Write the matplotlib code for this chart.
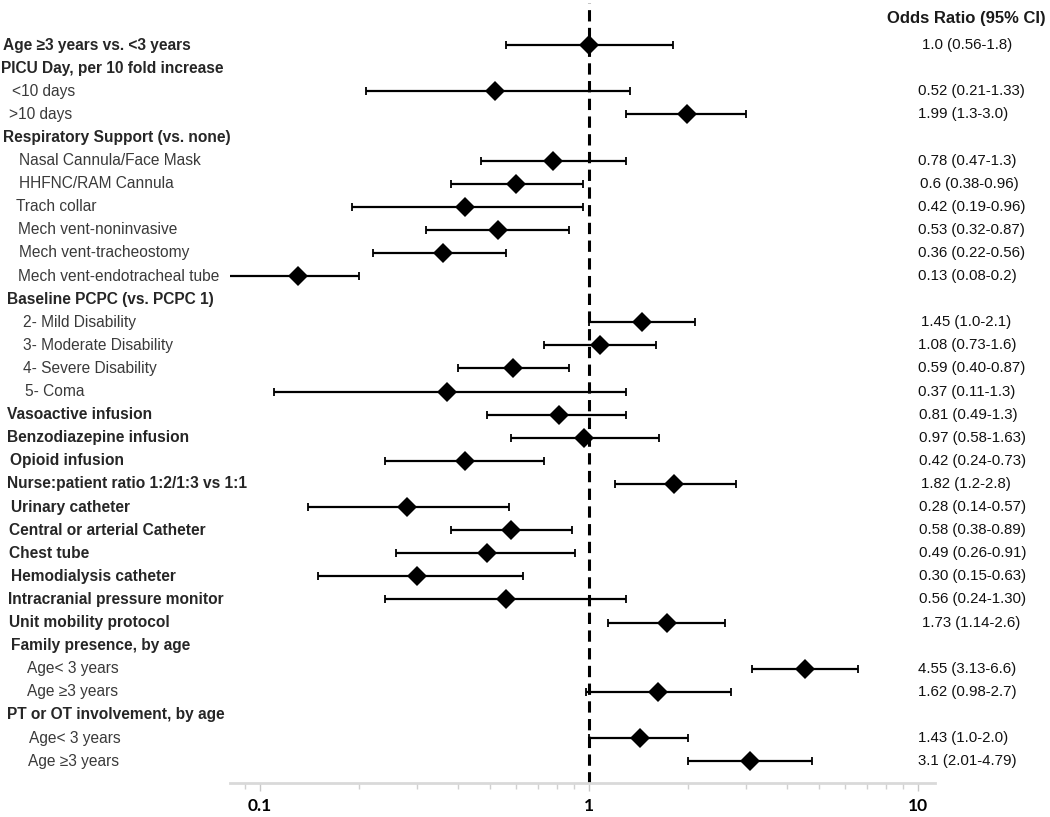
import matplotlib
matplotlib.use("Agg")
import matplotlib.pyplot as plt
import numpy as np
from matplotlib.transforms import blended_transform_factory
from matplotlib.ticker import LogLocator, NullFormatter, FixedLocator, FixedFormatter

# ---------------- data ----------------
labels = [
    "Age \u22653 years vs. <3 years",
    "PICU Day, per 10 fold increase",
    "<10 days",
    ">10 days",
    "Respiratory Support (vs. none)",
    "Nasal Cannula/Face Mask",
    "HHFNC/RAM Cannula",
    "Trach collar",
    "Mech vent-noninvasive",
    "Mech vent-tracheostomy",
    "Mech vent-endotracheal tube",
    "Baseline PCPC (vs. PCPC 1)",
    "2- Mild Disability",
    "3- Moderate Disability",
    "4- Severe Disability",
    "5- Coma",
    "Vasoactive infusion",
    "Benzodiazepine infusion",
    "Opioid infusion",
    "Nurse:patient ratio 1:2/1:3 vs 1:1",
    "Urinary catheter",
    "Central or arterial Catheter",
    "Chest tube",
    "Hemodialysis catheter",
    "Intracranial pressure monitor",
    "Unit mobility protocol",
    "Family presence, by age",
    "Age< 3 years",
    "Age \u22653 years",
    "PT or OT involvement, by age",
    "Age< 3 years",
    "Age \u22653 years",
]
is_sub = [0, 0, 1, 1, 0, 1, 1, 1, 1, 1, 1, 0, 1, 1, 1, 1,
          0, 0, 0, 0, 0, 0, 0, 0, 0, 0, 0, 1, 1, 0, 1, 1]
odds = [1.0, None, 0.52, 1.99, None, 0.78, 0.6, 0.42, 0.53, 0.36, 0.13, None,
        1.45, 1.08, 0.59, 0.37, 0.81, 0.97, 0.42, 1.82, 0.28, 0.58, 0.49, 0.30,
        0.56, 1.73, None, 4.55, 1.62, None, 1.43, 3.1]
ci_lo = [0.56, None, 0.21, 1.3, None, 0.47, 0.38, 0.19, 0.32, 0.22, 0.08, None,
         1.0, 0.73, 0.40, 0.11, 0.49, 0.58, 0.24, 1.2, 0.14, 0.38, 0.26, 0.15,
         0.24, 1.14, None, 3.13, 0.98, None, 1.0, 2.01]
ci_hi = [1.8, None, 1.33, 3.0, None, 1.3, 0.96, 0.96, 0.87, 0.56, 0.2, None,
         2.1, 1.6, 0.87, 1.3, 1.3, 1.63, 0.73, 2.8, 0.57, 0.89, 0.91, 0.63,
         1.30, 2.6, None, 6.6, 2.7, None, 2.0, 4.79]
or_text = ["1.0 (0.56-1.8)", "", "0.52 (0.21-1.33)", "1.99 (1.3-3.0)", "",
           "0.78 (0.47-1.3)", "0.6 (0.38-0.96)", "0.42 (0.19-0.96)",
           "0.53 (0.32-0.87)", "0.36 (0.22-0.56)", "0.13 (0.08-0.2)", "",
           "1.45 (1.0-2.1)", "1.08 (0.73-1.6)", "0.59 (0.40-0.87)",
           "0.37 (0.11-1.3)", "0.81 (0.49-1.3)", "0.97 (0.58-1.63)",
           "0.42 (0.24-0.73)", "1.82 (1.2-2.8)", "0.28 (0.14-0.57)",
           "0.58 (0.38-0.89)", "0.49 (0.26-0.91)", "0.30 (0.15-0.63)",
           "0.56 (0.24-1.30)", "1.73 (1.14-2.6)", "", "4.55 (3.13-6.6)",
           "1.62 (0.98-2.7)", "", "1.43 (1.0-2.0)", "3.1 (2.01-4.79)"]
x_ticks = [0.1, 1, 10]
x_tick_labels = ["0.1", "1", "10"]
header_text = "Odds Ratio (95% CI)"

# ---------------- layout / style ----------------
# left edge (pixels) of each row label
label_x_px = [3, 1, 12, 9, 3, 19, 19, 16, 18, 19, 18, 7, 23, 23, 23, 25,
              7, 7, 10, 7, 11, 9, 9, 11, 8, 9, 11, 27, 27, 7, 29, 28]
value_x_px = [922, 0, 918, 918, 0, 918, 920, 918, 918, 918, 918, 0,
              921, 918, 918, 918, 919, 919, 919, 921, 919, 919, 919, 919,
              919, 922, 0, 918, 918, 0, 918, 918]

W, H = 1050, 817
fig = plt.figure(figsize=(W / 100, H / 100), dpi=100)
plt.rcParams['font.family'] = ['Liberation Sans', 'DejaVu Sans']

ax_left, ax_right = 230, 935
ax_top, ax_bot = 3, 783
ax = fig.add_axes([ax_left / W, 1 - ax_bot / H, (ax_right - ax_left) / W, (ax_bot - ax_top) / H])

row0_px, row_step = 45, 23.1
y_top = (ax_top - row0_px) / row_step
y_bot = (ax_bot - row0_px) / row_step
ax.set_xscale('log')
ax.set_xlim(0.081, 11.3)
ax.set_ylim(y_bot, y_top)

n = len(labels)
ys = np.arange(n)
idx = [i for i in range(n) if odds[i] is not None]
o = np.array([odds[i] for i in idx])
lo = np.array([ci_lo[i] for i in idx])
hi = np.array([ci_hi[i] for i in idx])
yy = ys[idx]

ax.axvline(1, color='black', lw=2.2, ls=(0, (3.7, 2.1)), zorder=1)
ax.errorbar(o, yy, xerr=[o - lo, hi - o], fmt='none', ecolor='black',
            elinewidth=1.6, capsize=3.2, capthick=1.3, zorder=2)
ax.plot(o, yy, 'D', color='black', ms=10.2, zorder=3, mew=0)

for s in ['top', 'right', 'left']:
    ax.spines[s].set_visible(False)
ax.spines['bottom'].set_color('#d9d9d9')
ax.spines['bottom'].set_linewidth(2)
ax.set_yticks([])
ax.xaxis.set_major_locator(FixedLocator(x_ticks))
ax.xaxis.set_major_formatter(FixedFormatter(x_tick_labels))
ax.xaxis.set_minor_locator(LogLocator(base=10, subs=np.arange(2, 10)))
ax.xaxis.set_minor_formatter(NullFormatter())
ax.tick_params(axis='x', which='major', length=6, width=1, color='#c8c8c8',
               labelsize=12.5, pad=5)
ax.tick_params(axis='x', which='minor', length=4, width=1, color='#d0d0d0')
for t in ax.get_xticklabels():
    t.set_fontweight('bold')
    t.set_family(['Lato', 'DejaVu Sans'])

tr = blended_transform_factory(fig.transFigure, ax.transData)
for i, lab in enumerate(labels):
    if is_sub[i]:
        ax.text(label_x_px[i] / W, i, lab, transform=tr, ha='left', va='center',
                fontsize=11.2, color='#3a3a3a', clip_on=False)
    else:
        ax.text(label_x_px[i] / W, i, lab, transform=tr, ha='left', va='center',
                fontsize=11.2, fontweight='bold', color='#262626', clip_on=False)
    if or_text[i]:
        ax.text(value_x_px[i] / W, i, or_text[i], transform=tr, ha='left', va='center',
                fontsize=10.8, color='#111111', clip_on=False)

fig.text(966 / W, 1 - 18 / H, header_text, ha='center', va='center',
         fontsize=12, fontweight='bold', color='#1a1a1a')

fig.savefig('out.png', dpi=100)
